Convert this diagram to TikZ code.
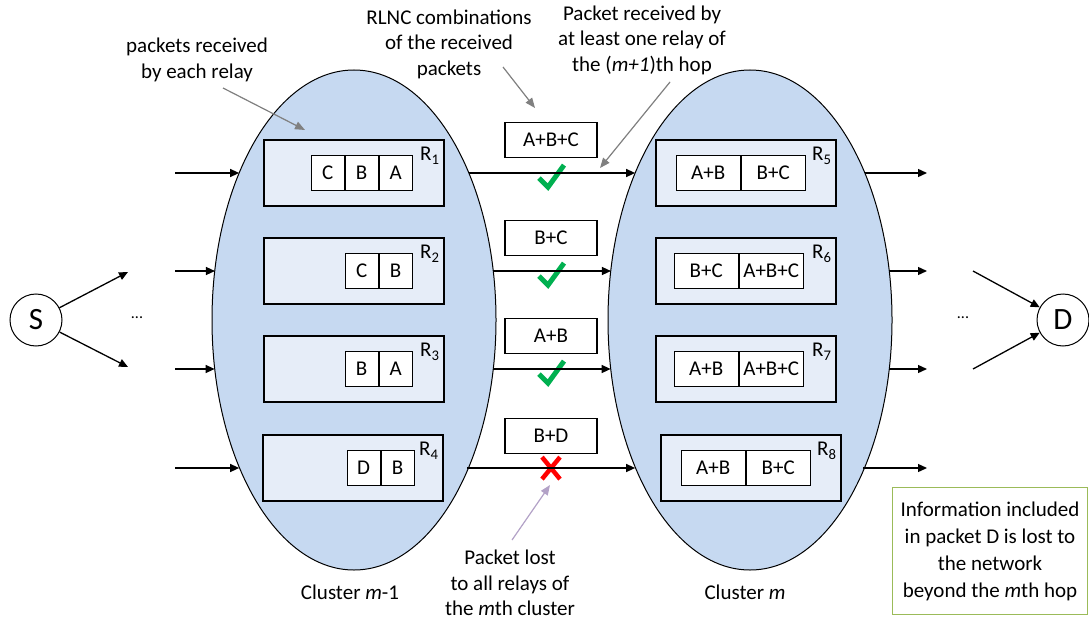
\documentclass[tikz,border=0pt]{standalone}
\usepackage{fontspec}
\setmainfont{Carlito}
\usetikzlibrary{arrows.meta, positioning, shapes.geometric}

\definecolor{clusterblue}{HTML}{C6D9F1}
\definecolor{relayblue}{HTML}{E6EDF8}
\definecolor{okgreen}{HTML}{00B050}
\definecolor{notegreen}{HTML}{9BBB59}
\definecolor{lostpurple}{HTML}{B3A2C7}
\definecolor{pointergray}{HTML}{808080}

\begin{document}
\begin{tikzpicture}[
    x=1pt, y=-1pt,
    font=\fontsize{21}{25.5}\selectfont,
    cluster/.style={draw, ellipse, fill=clusterblue, line width=1pt,
        minimum width=284pt, minimum height=500pt, outer sep=0pt},
    relay/.style={draw, fill=relayblue, line width=1.4pt,
        minimum width=180pt, minimum height=66pt},
    rlabel/.style={anchor=north east, inner sep=0pt,
        font=\fontsize{21}{21}\selectfont},
    cell/.style={draw, fill=white, line width=1pt, inner sep=0pt,
        minimum width=33pt, minimum height=35pt},
    wcell/.style={cell, minimum width=64pt},
    pkt/.style={draw, fill=white, line width=1.2pt, inner sep=0pt,
        minimum width=92pt, minimum height=35pt},
    endpoint/.style={draw, circle, line width=1pt, minimum size=52pt,
        inner sep=0pt, font=\fontsize{31}{31}\selectfont},
    dots/.style={inner sep=0pt, font=\fontsize{16}{16}\selectfont},
    note/.style={align=center, inner sep=0pt},
    arrow/.style={-{Triangle[length=9pt,width=8pt]}, line width=1.3pt},
    pointer/.style={-{Triangle[length=10pt,width=8pt]}, line width=1.2pt,
        draw=pointergray, fill=pointergray},
    okmark/.pic={\draw[okgreen, line width=5pt] (-12,5) -- (-3,14) -- (13,-8);},
    lossmark/.pic={\draw[red, line width=4.5pt] (-9,-11) -- (9,11) (-9,11) -- (9,-11);}
]
\useasboundingbox (0,0) rectangle (1089,623);

% ------------------------
% Clusters
% ------------------------
\node[cluster] (cl1) at (354,320) {};
\node[cluster] (cl2) at (750,320) {};

\node (lab1) at (350,592) {Cluster \textit{m}-1};
\node (lab2) at (745,592) {Cluster \textit{m}};

% ------------------------
% Relays of cluster m-1 (left)
% ------------------------
\node[relay] (r1) at (354,173) {};
\node[relay] (r2) at (354,271) {};
\node[relay] (r3) at (354,369) {};
\node[relay] (r4) at (353,468) {};

\node[rlabel] (r1l) at ([xshift=-5pt,yshift=-8pt]r1.north east) {R\textsubscript{1}};
\node[rlabel] (r2l) at ([xshift=-5pt,yshift=-8pt]r2.north east) {R\textsubscript{2}};
\node[rlabel] (r3l) at ([xshift=-5pt,yshift=-8pt]r3.north east) {R\textsubscript{3}};
\node[rlabel] (r4l) at ([xshift=-5pt,yshift=-8pt]r4.north east) {R\textsubscript{4}};

\node[cell, anchor=east] (r1a) at ([xshift=-32pt]r1.east) {A};
\node[cell, left=0pt of r1a] (r1b) {B};
\node[cell, left=0pt of r1b] (r1c) {C};

\node[cell, anchor=east] (r2a) at ([xshift=-32pt]r2.east) {B};
\node[cell, left=0pt of r2a] (r2b) {C};

\node[cell, anchor=east] (r3a) at ([xshift=-32pt]r3.east) {A};
\node[cell, left=0pt of r3a] (r3b) {B};

\node[cell, anchor=east] (r4a) at ([xshift=-29pt]r4.east) {B};
\node[cell, left=0pt of r4a] (r4b) {D};

% ------------------------
% Relays of cluster m (right)
% ------------------------
\node[relay] (r5) at (746,173) {};
\node[relay] (r6) at (746,271) {};
\node[relay] (r7) at (746,369) {};
\node[relay] (r8) at (751,468) {};

\node[rlabel] (r5l) at ([xshift=-5pt,yshift=-8pt]r5.north east) {R\textsubscript{5}};
\node[rlabel] (r6l) at ([xshift=-5pt,yshift=-8pt]r6.north east) {R\textsubscript{6}};
\node[rlabel] (r7l) at ([xshift=-5pt,yshift=-8pt]r7.north east) {R\textsubscript{7}};
\node[rlabel] (r8l) at ([xshift=-5pt,yshift=-8pt]r8.north east) {R\textsubscript{8}};

\node[wcell, anchor=east] (r5a) at ([xshift=-31pt]r5.east) {B+C};
\node[wcell, left=0pt of r5a] (r5b) {A+B};

\node[wcell, anchor=east] (r6a) at ([xshift=-33pt]r6.east) {A+B+C};
\node[wcell, left=0pt of r6a] (r6b) {B+C};

\node[wcell, anchor=east] (r7a) at ([xshift=-33pt]r7.east) {A+B+C};
\node[wcell, left=0pt of r7a] (r7b) {A+B};

\node[wcell, anchor=east] (r8a) at ([xshift=-31pt]r8.east) {B+C};
\node[wcell, left=0pt of r8a] (r8b) {A+B};

% ------------------------
% Coded packets between the clusters
% ------------------------
\node[pkt] (p1) at (551,140) {A+B+C};
\node[pkt] (p2) at (551,238) {B+C};
\node[pkt] (p3) at (551,336) {A+B};
\node[pkt] (p4) at (551,436) {B+D};

\pic at ([yshift=-15pt]p1.south) {okmark};
\pic at ([yshift=-15pt]p2.south) {okmark};
\pic at ([yshift=-15pt]p3.south) {okmark};
\pic at ([yshift=-14pt]p4.south) {lossmark};

% ------------------------
% Source and destination
% ------------------------
\node[endpoint] (S) at (36,320) {S};
\node[endpoint] (D) at (1063,320) {D};

\node[dots] (sdots) at (137,318) {...};
\node[dots] (ddots) at (963,318) {...};

\coordinate (s1) at (128,272);
\coordinate (s2) at (128,367);
\coordinate (d1) at (973,271);
\coordinate (d2) at (973,369);

\coordinate (in1) at (175,173);
\coordinate (in2) at (175,271);
\coordinate (in3) at (175,369);
\coordinate (in4) at (175,468);

\coordinate (out1) at (927,173);
\coordinate (out2) at (927,271);
\coordinate (out3) at (927,369);
\coordinate (out4) at (927,468);

% ------------------------
% Arrows
% ------------------------
\draw[arrow] (S) -- (s1);
\draw[arrow] (S) -- (s2);
\draw[arrow] (d1) -- (D);
\draw[arrow] (d2) -- (D);

\draw[arrow] (in1) -- (in1 -| cl1.128);
\draw[arrow] (in2) -- (in2 -| cl1.160.6);
\draw[arrow] (in3) -- (in3 -| cl1.199.4);
\draw[arrow] (in4) -- (in4 -| cl1.232.3);

\draw[arrow] (in1 -| cl1.52) -- (in1 -| cl2.128);
\draw[arrow] (in2 -| cl1.19.4) -- (in2 -| cl2.160.6);
\draw[arrow] (in3 -| cl1.340.6) -- (in3 -| cl2.199.4);
\draw[arrow] (in4 -| cl1.307.7) -- (in4 -| cl2.232.3);

\draw[arrow] (out1 -| cl2.52) -- (out1);
\draw[arrow] (out2 -| cl2.19.4) -- (out2);
\draw[arrow] (out3 -| cl2.340.6) -- (out3);
\draw[arrow] (out4 -| cl2.307.7) -- (out4);

% ------------------------
% Annotations
% ------------------------
\node[note] (n1) at (197,60) {packets received\\by each relay};
\node[note] (n2) at (449,44) {RLNC combinations\\of the received\\packets};
\node[note] (n3) at (642,40) {Packet received by\\at least one relay of\\the (\textit{m+1})th hop};
\node[note] (n4) at (510,583) {Packet lost\\to all relays of\\the \textit{m}th cluster};

\node[draw=notegreen, line width=1.6pt, align=center,
  minimum width=195pt, minimum height=127pt,
  font=\fontsize{21}{27}\selectfont] (info) at (990,551)
{Information included\\in packet D is lost to\\the network\\beyond the \textit{m}th hop};

\coordinate (n1s) at (223,88);
\coordinate (n1e) at (305,130);
\coordinate (n2s) at (503,67);
\coordinate (n2e) at (535,108);
\coordinate (n3s) at (670,82);
\coordinate (n3e) at (600,168);
\coordinate (n4s) at (512,540);
\coordinate (n4e) at (550,485);

\draw[pointer] (n1s) -- (n1e);
\draw[pointer] (n2s) -- (n2e);
\draw[pointer] (n3s) -- (n3e);
\draw[pointer, draw=lostpurple, fill=lostpurple] (n4s) -- (n4e);

\end{tikzpicture}
\end{document}
